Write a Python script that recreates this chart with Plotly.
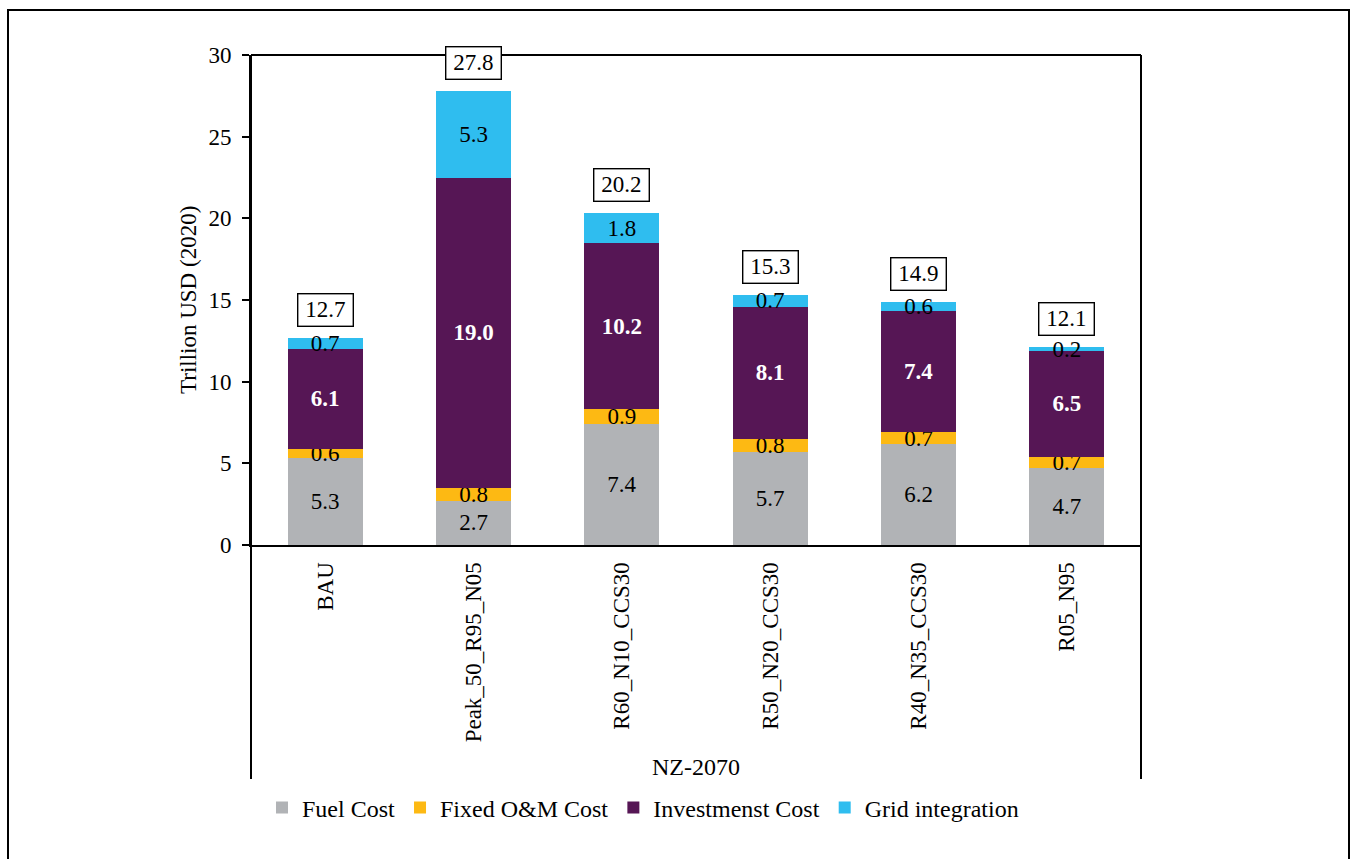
import plotly.graph_objects as go

# Scenario categories and cost components (trillion USD, 2020)
scenarios = ["BAU", "Peak_50_R95_N05", "R60_N10_CCS30", "R50_N20_CCS30", "R40_N35_CCS30", "R05_N95"]
fuel_cost = [5.3, 2.7, 7.4, 5.7, 6.2, 4.7]
fixed_om_cost = [0.6, 0.8, 0.9, 0.8, 0.7, 0.7]
investment_cost = [6.1, 19.0, 10.2, 8.1, 7.4, 6.5]
grid_integration = [0.7, 5.3, 1.8, 0.7, 0.6, 0.2]
totals = [12.7, 27.8, 20.2, 15.3, 14.9, 12.1]
y_ticks = [0, 5, 10, 15, 20, 25, 30]

FONT = "Times New Roman, Liberation Serif, serif"
FS = 23

W, H = 1351, 859
L, R, T, B = 251, 1141, 55, 545  # plot area in pixels


def px(x):
    return (x - L) / (R - L)


def py(y):
    return (B - y) / (B - T)


series = [
    ("Fuel Cost", fuel_cost, "#B1B3B6", "black", False),
    ("Fixed O&M Cost", fixed_om_cost, "#FDB913", "black", False),
    ("Investmenst Cost", investment_cost, "#561655", "white", True),
    ("Grid integration", grid_integration, "#2FBDEF", "black", False),
]

fig = go.Figure()
for name, vals, color, tcolor, bold in series:
    fig.add_trace(go.Bar(
        name=name,
        x=scenarios,
        y=vals,
        marker=dict(color=color, line=dict(width=0)),
        texttemplate="<b>%{y:.1f}</b>" if bold else "%{y:.1f}",
        textposition="inside",
        insidetextanchor="middle",
        textangle=0,
        constraintext="none",
        textfont=dict(family=FONT, size=FS, color=tcolor),
    ))

# Boxed totals above each stack
for s, tot, f, o, i, g in zip(scenarios, totals, fuel_cost, fixed_om_cost, investment_cost, grid_integration):
    fig.add_annotation(
        x=s, y=f + o + i + g, xref="x", yref="y",
        text=f"{tot:.1f}", showarrow=False,
        yanchor="bottom", yshift=11, width=52, height=29,
        font=dict(family=FONT, size=FS, color="black"),
        bgcolor="white", bordercolor="black", borderwidth=1.4, borderpad=1,
    )

# Axis titles
fig.add_annotation(x=px(188), y=py(300), xref="paper", yref="paper", text="Trillion USD (2020)",
                   textangle=-90, showarrow=False, xanchor="center", yanchor="middle",
                   font=dict(family=FONT, size=23, color="black"))
fig.add_annotation(x=px(696), y=py(767), xref="paper", yref="paper", text="NZ-2070",
                   showarrow=False, xanchor="center", yanchor="middle",
                   font=dict(family=FONT, size=24, color="black"))

line = dict(color="black", width=2)
# Frame: top edge, right edge, left axis extension and outer border
fig.add_shape(type="line", xref="paper", yref="paper", x0=0, x1=1, y0=1, y1=1, line=line, layer="above")
fig.add_shape(type="line", xref="paper", yref="paper", x0=1, x1=1, y0=py(779), y1=1, line=line, layer="above")
fig.add_shape(type="line", xref="paper", yref="paper", x0=0, x1=0, y0=py(779), y1=1, line=line, layer="above")
fig.add_shape(type="rect", xref="paper", yref="paper", x0=px(8), x1=px(1349), y0=py(880), y1=py(10),
              line=line, layer="above")

fig.update_layout(
    width=W, height=H,
    margin=dict(l=L, r=W - R, t=T, b=H - B, pad=0),
    paper_bgcolor="white", plot_bgcolor="white",
    barmode="stack", bargap=0.494,
    uniformtext=dict(minsize=FS, mode="show"),
    font=dict(family=FONT, size=FS, color="black"),
    showlegend=True,
    legend=dict(
        orientation="h", x=px(262), xanchor="left", y=py(808), yanchor="middle",
        font=dict(family=FONT, size=24, color="black"), traceorder="normal",
        itemwidth=30, bgcolor="rgba(0,0,0,0)",
    ),
    xaxis=dict(
        showline=True, linecolor="black", linewidth=2, ticks="", tickangle=-90,
        showgrid=False, tickfont=dict(family=FONT, size=23, color="black"),
        ticklabelstandoff=6,
    ),
    yaxis=dict(
        range=[0, 30], tickvals=y_ticks, showline=True, linecolor="black", linewidth=2,
        ticks="outside", ticklen=7, tickwidth=2, tickcolor="black", showgrid=False, zeroline=False,
        tickfont=dict(family=FONT, size=FS, color="black"), ticklabelstandoff=6,
    ),
)

fig.write_html("out.html")
